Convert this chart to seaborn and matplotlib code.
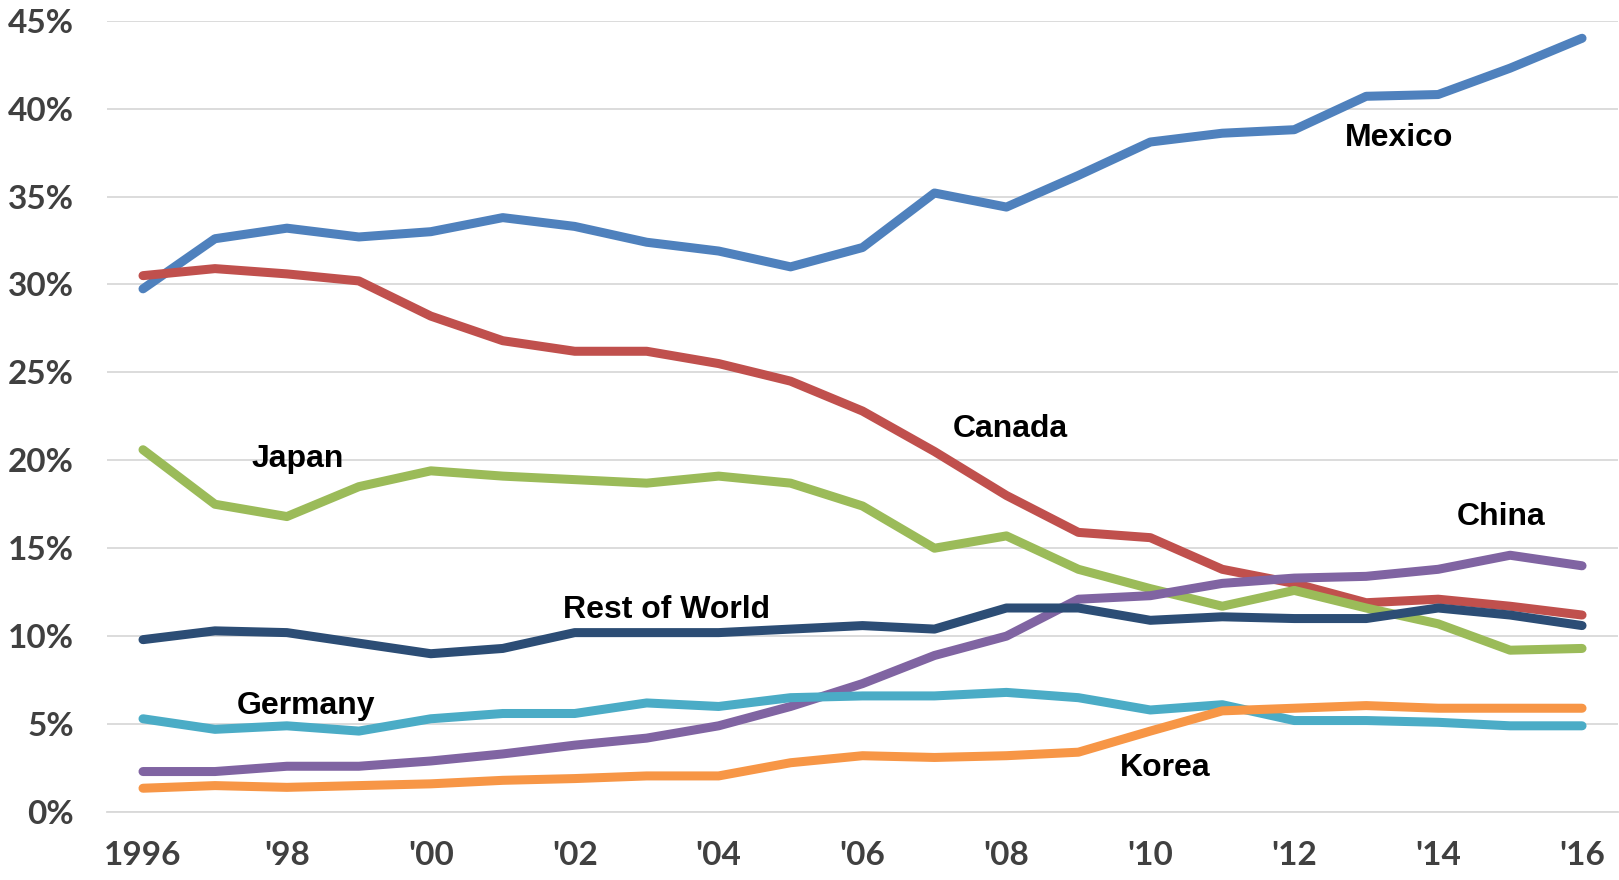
import pandas as pd
import matplotlib
matplotlib.use('Agg')
import matplotlib.pyplot as plt
import seaborn as sns

# share of imports by origin, 1996-2016 (%)
years = list(range(1996, 2017))
mexico = [29.75, 32.6, 33.2, 32.7, 33.0, 33.8, 33.3, 32.4, 31.9, 31.0, 32.1,
          35.2, 34.4, 36.2, 38.1, 38.6, 38.8, 40.7, 40.8, 42.3, 44.0]
canada = [30.5, 30.9, 30.6, 30.2, 28.2, 26.8, 26.2, 26.2, 25.5, 24.5, 22.8,
          20.5, 18.0, 15.9, 15.6, 13.8, 13.0, 11.9, 12.1, 11.7, 11.2]
japan = [20.6, 17.5, 16.8, 18.5, 19.4, 19.1, 18.9, 18.7, 19.1, 18.7, 17.4,
         15.0, 15.7, 13.8, 12.7, 11.7, 12.6, 11.6, 10.7, 9.2, 9.3]
china = [2.3, 2.3, 2.6, 2.6, 2.9, 3.3, 3.8, 4.2, 4.9, 6.0, 7.3,
         8.9, 10.0, 12.1, 12.3, 13.0, 13.3, 13.4, 13.8, 14.6, 14.0]
rest_of_world = [9.8, 10.3, 10.2, 9.6, 9.0, 9.3, 10.2, 10.2, 10.2, 10.4, 10.6,
                 10.4, 11.6, 11.6, 10.9, 11.1, 11.0, 11.0, 11.6, 11.2, 10.6]
germany = [5.3, 4.7, 4.9, 4.6, 5.3, 5.6, 5.6, 6.2, 6.0, 6.5, 6.6,
           6.6, 6.8, 6.5, 5.8, 6.1, 5.2, 5.2, 5.1, 4.9, 4.9]
korea = [1.35, 1.5, 1.4, 1.5, 1.6, 1.8, 1.9, 2.05, 2.05, 2.8, 3.2,
         3.1, 3.2, 3.4, 4.6, 5.75, 5.9, 6.05, 5.9, 5.9, 5.9]

year_labels = ['1996', "'98", "'00", "'02", "'04", "'06", "'08", "'10", "'12", "'14", "'16"]
y_ticks = [0, 5, 10, 15, 20, 25, 30, 35, 40, 45]

series = {'Mexico': mexico, 'Canada': canada, 'Japan': japan, 'China': china,
          'Rest of World': rest_of_world, 'Germany': germany, 'Korea': korea}
colors = {'Mexico': '#4F81BD', 'Canada': '#C0504D', 'Japan': '#9BBB59', 'China': '#8064A2',
          'Rest of World': '#2C4D75', 'Germany': '#4BACC6', 'Korea': '#F79646'}

# label positions (category index, value)
label_pos = {'Mexico': (17.45, 38.3), 'Canada': (12.06, 21.8), 'Japan': (2.15, 20.1),
             'China': (18.88, 16.8), 'Rest of World': (7.28, 11.5), 'Germany': (2.27, 6.05),
             'Korea': (14.21, 2.5)}

rows = []
for name, vals in series.items():
    for i, v in enumerate(vals):
        rows.append({'idx': i, 'share': v, 'origin': name})
df = pd.DataFrame(rows)

sns.set_style('white')
fig = plt.figure(figsize=(16.19, 8.8), dpi=100)
ax = fig.add_axes([0.0661, 0.0773, 0.9333, 0.8992])

sns.lineplot(data=df, x='idx', y='share', hue='origin', palette=colors, ax=ax,
             linewidth=6.5, legend=False, solid_capstyle='round', solid_joinstyle='round')

ax.set_xlim(-0.5, len(years) - 0.5)
ax.set_ylim(0, 45)

# gridlines
ax.set_yticks(y_ticks)
ax.set_yticklabels([f'{t}%' for t in y_ticks])
ax.yaxis.grid(True, color='#D9D9D9', linewidth=1.3)
ax.set_axisbelow(True)

# category axis: labels every 2 years, tick marks between categories
ax.set_xticks(range(0, len(years), 2))
ax.set_xticklabels(year_labels)
ax.set_xticks([i - 0.5 for i in range(len(years) + 1)], minor=True)
ax.tick_params(axis='x', which='major', length=0, pad=21)
ax.tick_params(axis='x', which='minor', length=9.5, width=1.3, color='#D9D9D9', direction='out')
ax.tick_params(axis='y', length=0, pad=24)

for lab in ax.get_xticklabels() + ax.get_yticklabels():
    lab.set_fontfamily('Lato')
    lab.set_fontweight('bold')
    lab.set_fontsize(24)
    lab.set_color('#404040')

for s in ['top', 'right', 'left']:
    ax.spines[s].set_visible(False)
ax.spines['bottom'].set_color('#D9D9D9')
ax.spines['bottom'].set_linewidth(1.3)

ax.set_xlabel('')
ax.set_ylabel('')

for name, (x, y) in label_pos.items():
    ax.text(x, y, name, ha='center', va='center', fontsize=23, fontweight='bold',
            family='Liberation Sans', color='black')

plt.savefig('out.png', dpi=100)
